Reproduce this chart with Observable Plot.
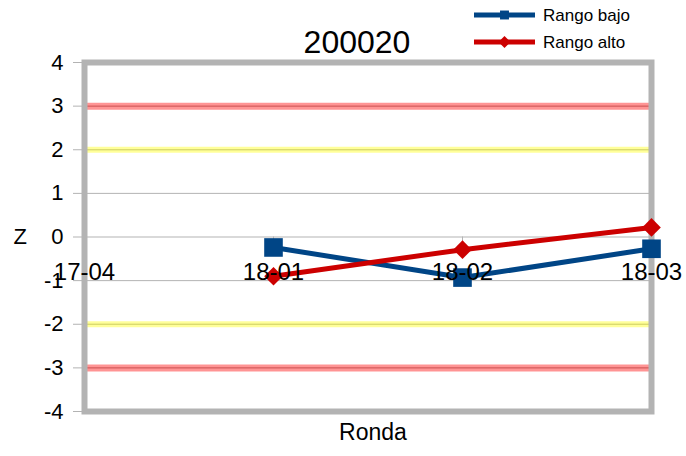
<!DOCTYPE html>
<html>
<head>
<meta charset="utf-8">
<script src="https://cdn.jsdelivr.net/npm/d3@7"></script>
<script src="https://cdn.jsdelivr.net/npm/@observablehq/plot@0.6"></script>
<style>
  html, body { margin: 0; padding: 0; background: #fff; }
  #chart { width: 686px; height: 456px; }
  svg { font-family: "Liberation Sans", Arial, sans-serif; }
</style>
</head>
<body>
<div id="chart"></div>
<script>
const title = "200020";
const rounds = ["17-04", "18-01", "18-02", "18-03"];
const rangoBajo = [null, -0.24, -0.93, -0.27];
const rangoAlto = [null, -0.90, -0.29, 0.22];
const seriesNames = ["Rango bajo", "Rango alto"];
const yTicks = [-4, -3, -2, -1, 0, 1, 2, 3, 4];
const gridValues = [-3, -2, -1, 0, 1, 2, 3];
const redLimits = [3, -3];
const yellowLimits = [2, -2];
const xLabel = "Ronda";
const yLabel = "Z";

const blue = "#004586";
const red = "#cc0000";
const gray = "#b3b3b3";

const bajoData = rounds.map((r, i) => ({round: r, z: rangoBajo[i]}));
const altoData = rounds.map((r, i) => ({round: r, z: rangoAlto[i]}));
const bajoPts = bajoData.filter(d => d.z != null);
const altoPts = altoData.filter(d => d.z != null);

const chart = Plot.plot({
  width: 686,
  height: 456,
  marginLeft: 84,
  marginRight: 35,
  marginTop: 62,
  marginBottom: 45,
  style: {fontFamily: "Liberation Sans, Arial, sans-serif", background: "#fff"},
  x: {type: "point", domain: rounds, padding: 0, axis: null},
  y: {domain: [-4, 4], axis: null},
  marks: [
    Plot.ruleY(gridValues, {stroke: gray, strokeWidth: 1}),
    Plot.ruleY(yellowLimits, {stroke: "#ffff00", strokeOpacity: 0.4, strokeWidth: 6}),
    Plot.ruleY(yellowLimits, {stroke: "#d8d860", strokeOpacity: 0.3, strokeWidth: 1}),
    Plot.ruleY(redLimits, {stroke: "#ff0000", strokeOpacity: 0.42, strokeWidth: 7}),
    Plot.ruleY(redLimits, {stroke: "#c00000", strokeOpacity: 0.2, strokeWidth: 1}),
    Plot.ruleX(rounds, {x: d => d, y1: 0, y2: -0.1, stroke: gray, strokeWidth: 1}),
    Plot.frame({stroke: gray, strokeWidth: 6}),
    Plot.axisY({ticks: yTicks, tickSize: 11, tickPadding: 10, stroke: gray, fontSize: 22, tickFormat: d => String(d), fill: "#000", label: null}),
    Plot.line(bajoData, {x: "round", y: "z", stroke: blue, strokeWidth: 5}),
    Plot.line(altoData, {x: "round", y: "z", stroke: red, strokeWidth: 5}),
    Plot.dot(bajoPts, {x: "round", y: "z", symbol: "square", r: 10.5, fill: blue, stroke: null}),
    Plot.dot(altoPts, {x: "round", y: "z", symbol: "diamond2", r: 8.4, fill: red, stroke: null}),
    Plot.text(rounds, {x: d => d, y: () => 0, dy: 35, fontSize: 24, fill: "#000", text: d => d}),
    Plot.text([yLabel], {frameAnchor: "left", dx: -71, fontSize: 22, fill: "#000"}),
    Plot.text([xLabel], {frameAnchor: "bottom", dx: 5, dy: 28, fontSize: 23, fill: "#000"}),
    Plot.text([title], {frameAnchor: "top", dx: -11, dy: -32, fontSize: 32, fill: "#000"})
  ]
});

// Legend
const svg = d3.select(chart);
const legend = svg.append("g").attr("text-anchor", "start");
const items = [
  {name: seriesNames[0], color: blue, symbol: d3.symbolSquare, size: 80, y: 15},
  {name: seriesNames[1], color: red, symbol: d3.symbolDiamond2 || d3.symbolDiamond, size: 90, y: 42}
];
items.forEach(it => {
  legend.append("line").attr("x1", 474).attr("x2", 535).attr("y1", it.y).attr("y2", it.y)
    .attr("stroke", it.color).attr("stroke-width", 5);
  legend.append("path").attr("d", d3.symbol(it.symbol, it.size)())
    .attr("transform", `translate(504.5,${it.y})`).attr("fill", it.color);
  legend.append("text").attr("x", 543).attr("y", it.y).attr("dy", "0.35em")
    .attr("font-size", 17).attr("fill", "#000").text(it.name);
});

document.getElementById("chart").appendChild(chart);
</script>
</body>
</html>
